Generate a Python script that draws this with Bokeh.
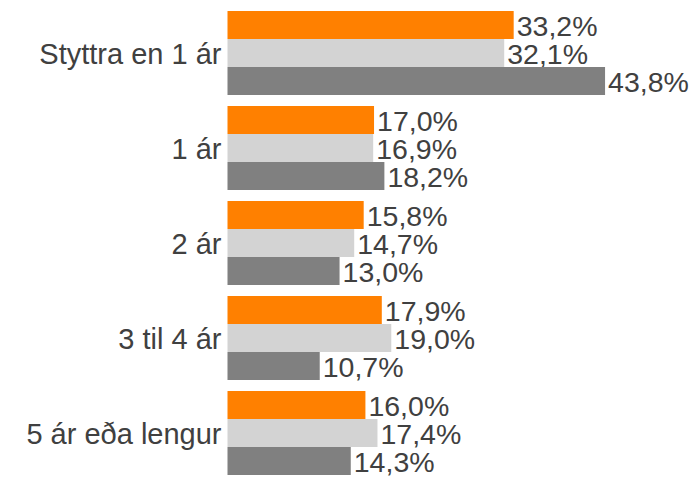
from bokeh.plotting import figure
from bokeh.models import ColumnDataSource, Range1d
from bokeh.core.properties import value
from bokeh.embed import file_html
from bokeh.resources import INLINE

categories = ["Styttra en 1 ár", "1 ár", "2 ár", "3 til 4 ár", "5 ár eða lengur"]
series_a = [33.2, 17.0, 15.8, 17.9, 16.0]   # orange
series_b = [32.1, 16.9, 14.7, 19.0, 17.4]   # light gray
series_c = [43.8, 18.2, 13.0, 10.7, 14.3]   # dark gray
colors = ["#FF8000", "#D3D3D3", "#808080"]

W, H = 692, 481
px_per_pct = 8.62
left_px = 227
pitch_px = 95.0
top_center_px = 52.5
bar_h = 0.294

y_top = -top_center_px / pitch_px
y_bot = y_top + H / pitch_px

p = figure(width=W, height=H, output_backend="svg", toolbar_location=None,
           x_range=Range1d(-left_px / px_per_pct, (W - left_px) / px_per_pct),
           y_range=Range1d(y_bot, y_top),
           min_border=0, min_border_left=0, min_border_right=0,
           min_border_top=0, min_border_bottom=0)
p.outline_line_color = None
p.xgrid.visible = False
p.ygrid.visible = False
p.xaxis.visible = False
p.yaxis.visible = False
p.background_fill_color = "white"

font = value("Liberation Sans")
txt_color = "#404040"

for s, (vals, col) in enumerate(zip([series_a, series_b, series_c], colors)):
    ys = [i + (s - 1) * bar_h for i in range(len(categories))]
    src = ColumnDataSource(dict(y=ys, v=vals,
                                lab=[f"{v:.1f}%".replace(".", ",") for v in vals]))
    p.hbar(y="y", left=0, right="v", height=bar_h, source=src,
           fill_color=col, line_color=None)
    p.text(x="v", y="y", text="lab", source=src, x_offset=3, y_offset=1,
           text_align="left", text_baseline="middle",
           text_font=font, text_font_size="28.5px", text_color=txt_color)

csrc = ColumnDataSource(dict(x=[0] * len(categories), y=list(range(len(categories))),
                             t=categories))
p.text(x="x", y="y", text="t", source=csrc, x_offset=-6, y_offset=1,
       text_align="right", text_baseline="middle",
       text_font=font, text_font_size="29px", text_color=txt_color)

open("out.html", "w").write(file_html(p, INLINE))
